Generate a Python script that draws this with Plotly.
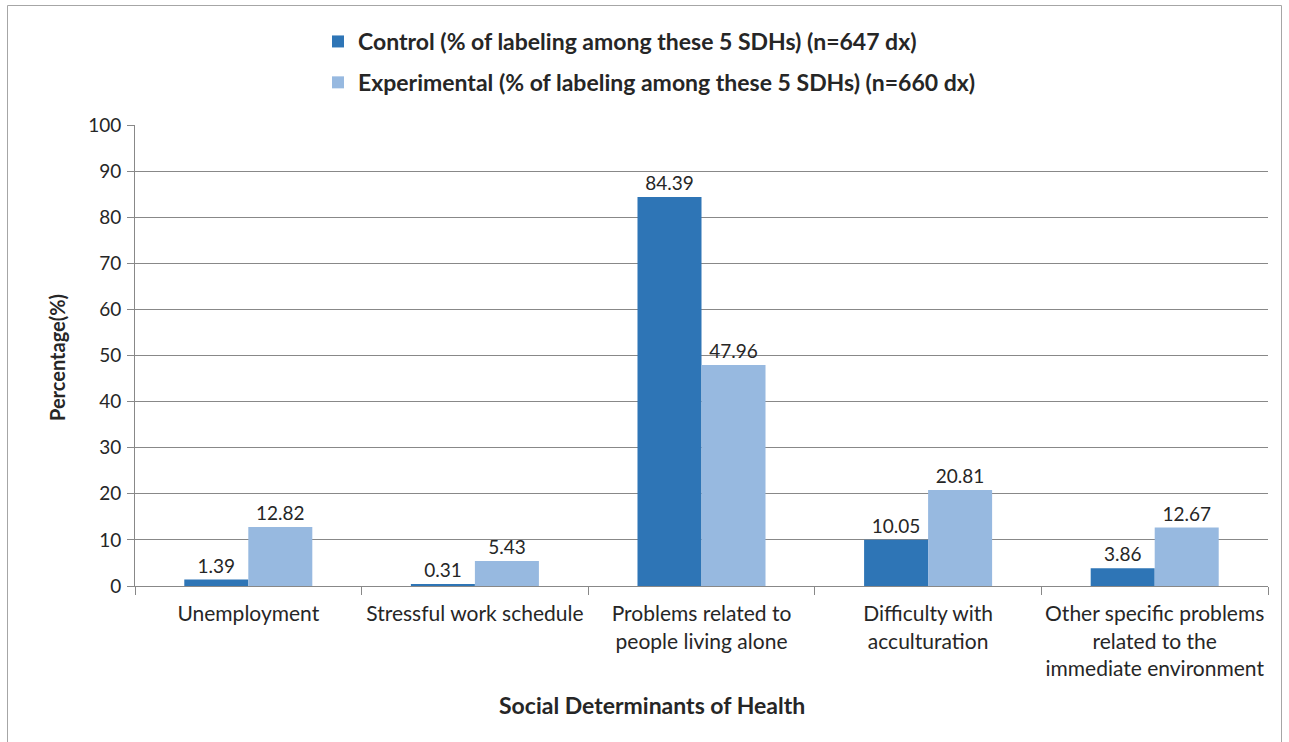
import plotly.graph_objects as go

categories = [
    "Unemployment",
    "Stressful work schedule",
    "Problems related to<br>people living alone",
    "Difficulty with<br>acculturation",
    "Other specific problems<br>related to the<br>immediate environment",
]
control = [1.39, 0.31, 84.39, 10.05, 3.86]
experimental = [12.82, 5.43, 47.96, 20.81, 12.67]
control_name = "Control (% of labeling among these 5 SDHs) (n=647 dx)"
experimental_name = "Experimental (% of labeling among these 5 SDHs) (n=660 dx)"
y_ticks = list(range(0, 101, 10))

FONT = "Lato"
TXT = "#262626"
GRID = "#888888"

fig = go.Figure()
fig.add_trace(go.Bar(
    x=categories, y=control, name=control_name, legendgroup="a",
    marker=dict(color="#2E75B6", line=dict(width=0)),
    text=[f"{v:.2f}" for v in control], textposition="outside",
    textfont=dict(size=19, color=TXT, family=FONT), cliponaxis=False,
))
fig.add_trace(go.Bar(
    x=categories, y=experimental, name=experimental_name, legendgroup="b",
    marker=dict(color="#97B9E0", line=dict(width=0)),
    text=[f"{v:.2f}" for v in experimental], textposition="outside",
    textfont=dict(size=19, color=TXT, family=FONT), cliponaxis=False,
))

L, R, T, B = 135, 21, 125, 156
W, H = 1289, 742
pw, ph = W - L - R, H - T - B

def px2x(p):
    return (p - L) / pw

def px2y(p):
    return (H - B - p) / ph

fig.update_layout(
    width=W, height=H,
    margin=dict(l=L, r=R, t=T, b=B, autoexpand=False),
    paper_bgcolor="white", plot_bgcolor="white",
    font=dict(family=FONT, size=19, color=TXT),
    barmode="group", bargap=0.435, bargroupgap=0,
    showlegend=True,
    legend=dict(
        x=px2x(318), y=px2y(20), xanchor="left", yanchor="top",
        font=dict(family=FONT, size=23, color=TXT, weight="bold"),
        tracegroupgap=8, bgcolor="rgba(0,0,0,0)",
        itemclick=False,
    ),
    xaxis=dict(
        type="category", tickson="boundaries", ticks="outside", ticklen=8,
        tickcolor=GRID, showline=True, linecolor=GRID, linewidth=1,
        showgrid=False, tickfont=dict(family=FONT, size=21, color=TXT),
        ticklabelstandoff=9, tickangle=0, automargin=False,
    ),
    yaxis=dict(
        range=[0, 100], tickvals=y_ticks, ticks="outside", ticklen=7,
        tickcolor=GRID, showline=True, linecolor=GRID, linewidth=1,
        showgrid=True, gridcolor=GRID, gridwidth=1, zeroline=False,
        tickfont=dict(family=FONT, size=19, color=TXT),
        ticklabelstandoff=2, automargin=False,
    ),
    annotations=[
        dict(text="<b>Social Determinants of Health</b>", xref="paper", yref="paper",
             x=px2x(652), y=px2y(705), xanchor="center", yanchor="middle",
             showarrow=False, font=dict(family=FONT, size=23, color=TXT)),
        dict(text="<b>Percentage(%)</b>", xref="paper", yref="paper",
             x=px2x(57), y=px2y(358), xanchor="center", yanchor="middle",
             textangle=-90, showarrow=False, font=dict(family=FONT, size=20, color=TXT)),
    ],
    shapes=[
        dict(type="rect", xref="paper", yref="paper",
             x0=px2x(7.5), x1=px2x(1281.5), y0=px2y(760), y1=px2y(5.5),
             line=dict(color="#A6A6A6", width=1), fillcolor="rgba(0,0,0,0)", layer="below"),
    ],
)

fig.write_html("out.html")
